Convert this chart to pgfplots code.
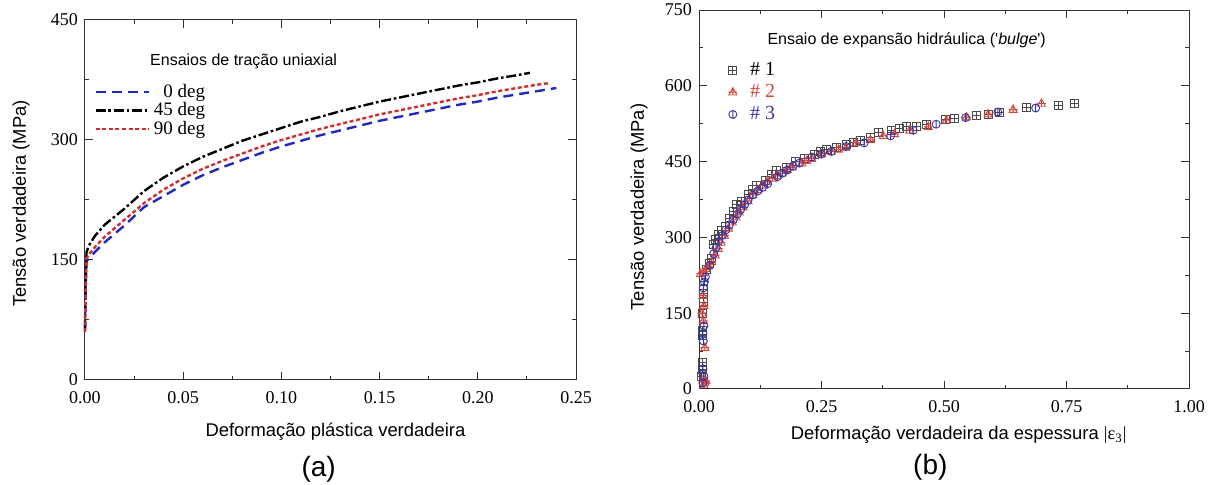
\documentclass[border=0pt]{standalone}
\usepackage{fontspec}
\setmainfont{Liberation Serif}
\setsansfont{Liberation Sans}
\usepackage{pgfplots}
\pgfplotsset{compat=1.18}

\definecolor{myblue}{RGB}{35,40,190}
\definecolor{myred}{RGB}{210,45,45}
\definecolor{mkgray}{RGB}{75,75,75}
\definecolor{mkred}{RGB}{215,70,60}
\definecolor{mkblue}{RGB}{55,55,165}

\pgfdeclareplotmark{sqplus}{%
  \pgfpathrectangle{\pgfpoint{-\pgfplotmarksize}{-\pgfplotmarksize}}{\pgfpoint{2\pgfplotmarksize}{2\pgfplotmarksize}}%
  \pgfpathmoveto{\pgfpoint{-\pgfplotmarksize}{0pt}}\pgfpathlineto{\pgfpoint{\pgfplotmarksize}{0pt}}%
  \pgfpathmoveto{\pgfpoint{0pt}{-\pgfplotmarksize}}\pgfpathlineto{\pgfpoint{0pt}{\pgfplotmarksize}}%
  \pgfusepathqstroke}
\pgfdeclareplotmark{triplus}{%
  \pgfpathmoveto{\pgfpoint{0pt}{1.15\pgfplotmarksize}}%
  \pgfpathlineto{\pgfpoint{-\pgfplotmarksize}{-0.7\pgfplotmarksize}}%
  \pgfpathlineto{\pgfpoint{\pgfplotmarksize}{-0.7\pgfplotmarksize}}%
  \pgfpathclose
  \pgfpathmoveto{\pgfpoint{0pt}{-0.7\pgfplotmarksize}}\pgfpathlineto{\pgfpoint{0pt}{1.15\pgfplotmarksize}}%
  \pgfpathmoveto{\pgfpoint{-1.1\pgfplotmarksize}{0pt}}\pgfpathlineto{\pgfpoint{1.1\pgfplotmarksize}{0pt}}%
  \pgfusepathqstroke}
\pgfdeclareplotmark{circbar}{%
  \pgfpathcircle{\pgfpoint{0pt}{0pt}}{\pgfplotmarksize}%
  \pgfpathmoveto{\pgfpoint{0pt}{-\pgfplotmarksize}}\pgfpathlineto{\pgfpoint{0pt}{\pgfplotmarksize}}%
  \pgfusepathqstroke}

\pgfplotsset{
  myaxis/.style={
    scale only axis,
    clip=false,
    axis line style={black!80, line width=0.5pt},
    every tick/.style={black!80, line width=0.5pt},
    major tick length=4pt,
    minor tick length=1.8pt,
    minor tick num=1,
    tick align=inside,
    scaled ticks=false,
    /pgf/number format/assume math mode=true,
    ticklabel style={font=\fontsize{9}{10}\selectfont},
    xticklabel style={/pgf/number format/fixed, /pgf/number format/fixed zerofill, /pgf/number format/precision=2, yshift=-2pt},
    yticklabel style={/pgf/number format/fixed},
    label style={font=\sffamily\fontsize{9.2}{11}\selectfont},
  }
}

\pgfplotstableread{
x y
0 60
0.0003 110
0.0008 148
0.002 152
0.005 160
0.01 172
0.02 193
0.03 216
0.04 230
0.05 244
0.06 256
0.07 266
0.08 275
0.09 284
0.10 292
0.11 299
0.12 306
0.13 312
0.14 318
0.15 324
0.16 329
0.17 334
0.18 339
0.19 344
0.20 348
0.21 353
0.22 357
0.23 361
0.24 365
}\tzero

\pgfplotstableread{
x y
0 62
0.0003 125
0.0008 160
0.002 168
0.005 180
0.01 194
0.02 214
0.03 236
0.04 253
0.05 267
0.06 279
0.07 289
0.08 299
0.09 307
0.10 315
0.11 323
0.12 329
0.13 336
0.14 342
0.15 348
0.16 353
0.17 358
0.18 363
0.19 368
0.20 372
0.21 377
0.22 381
0.2265 384
}\tfortyfive

\pgfplotstableread{
x y
0 60
0.0003 115
0.0008 152
0.002 157
0.005 166
0.01 179
0.02 200
0.03 221
0.04 238
0.05 252
0.06 264
0.07 274
0.08 283
0.09 292
0.10 300
0.11 307
0.12 314
0.13 320
0.14 326
0.15 332
0.16 337
0.17 342
0.18 347
0.19 352
0.20 356
0.21 361
0.22 365
0.23 369
0.236 371
}\tninety

\pgfplotstableread{
x y
0.005 25
0.006 38
0.006 45
0.007 52
0.006 105
0.007 115
0.008 150
0.009 172
0.009 190
0.010 205
0.016 237
0.021 248
0.026 258
0.029 287
0.034 296
0.039 306
0.046 314
0.053 322
0.063 337
0.070 352
0.077 365
0.087 372
0.100 385
0.110 395
0.118 402
0.135 413
0.147 424
0.158 432
0.179 438
0.196 450
0.216 456
0.236 465
0.248 470
0.260 474
0.280 478
0.300 483
0.315 487
0.330 492
0.349 497
0.366 507
0.393 511
0.410 516
0.424 519
0.444 520
0.465 524
0.502 534
0.522 535
0.566 541
0.590 544
0.614 548
0.668 557
0.733 562
0.767 565
}\bone

\pgfplotstableread{
x y
0.010 8
0.012 13
0.009 20
0.014 16
0.012 82
0.009 135
0.006 150
0.010 165
0.008 185
0.003 228
0.009 230
0.014 238
0.019 243
0.026 252
0.033 265
0.039 278
0.045 290
0.052 304
0.060 318
0.068 330
0.075 340
0.082 350
0.090 360
0.100 372
0.110 384
0.120 394
0.130 403
0.140 411
0.150 417
0.160 422
0.170 427
0.180 434
0.190 439
0.210 447
0.220 452
0.230 456
0.250 465
0.270 470
0.285 474
0.300 478
0.320 487
0.350 493
0.376 501
0.399 505
0.430 512
0.468 519
0.505 532
0.546 538
0.590 544
0.641 553
0.699 565
}\btwo

\pgfplotstableread{
x y
0.008 12
0.010 25
0.008 40
0.009 95
0.008 110
0.010 125
0.009 200
0.011 212
0.013 222
0.022 245
0.030 268
0.035 280
0.040 292
0.048 304
0.055 315
0.062 325
0.070 335
0.078 346
0.085 355
0.093 365
0.100 374
0.110 384
0.120 392
0.130 399
0.140 406
0.160 420
0.170 427
0.180 433
0.192 441
0.205 447
0.230 459
0.250 465
0.270 470
0.300 480
0.337 487
0.391 501
0.437 512
0.484 524
0.544 537
0.610 548
0.687 556
}\bthree

\begin{document}
\begin{tikzpicture}
\useasboundingbox (0,0) rectangle (609.5pt,242.5pt);

% ---------------- (a) ----------------
\begin{axis}[myaxis,
  at={(42.5pt,52.5pt)}, anchor=south west,
  width=245.5pt, height=180pt,
  xmin=0, xmax=0.25, ymin=0, ymax=450,
  xtick={0,0.05,0.1,0.15,0.2,0.25},
  ytick={0,150,300,450},
  xlabel={Deformação plástica verdadeira},
  ylabel={Tensão verdadeira (MPa)},
  xlabel style={at={(axis description cs:0.51,0)}, anchor=center, yshift=-26pt},
  ylabel style={at={(axis description cs:0,0.49)}, anchor=center, yshift=32pt},
  legend style={at={(axis cs:0.0015,377)}, anchor=north west, draw=none, fill=none,
    font=\fontsize{9.5}{10}\selectfont, nodes={inner sep=0.6pt}, column sep=1.5pt, row sep=0pt},
  legend cell align=left,
  legend image code/.code={\draw[#1] (0pt,0pt) -- (26.5pt,0pt);},
]
\addplot[myblue, line width=1.2pt, dash pattern=on 5pt off 3pt] table[x=x,y=y] {\tzero};
\addlegendentry{\hphantom{4}0 deg}
\addplot[black, line width=1.2pt, dash pattern=on 5pt off 1.4pt on 1.3pt off 1.4pt] table[x=x,y=y] {\tfortyfive};
\addlegendentry{45 deg}
\addplot[myred, line width=1.2pt, dash pattern=on 2pt off 1.3pt] table[x=x,y=y] {\tninety};
\addlegendentry{90 deg}
\node[anchor=west, inner sep=0pt, font=\sffamily\fontsize{8}{9}\selectfont] at (axis cs:0.033,398) {Ensaios de tração uniaxial};
\node[font=\sffamily\fontsize{14}{16}\selectfont, yshift=-44.5pt] at (axis description cs:0.476,0) {(a)};
\end{axis}

% ---------------- (b) ----------------
\begin{axis}[myaxis,
  at={(349.5pt,48pt)}, anchor=south west,
  width=245pt, height=189.5pt,
  xmin=0, xmax=1, ymin=0, ymax=750,
  xtick={0,0.25,0.5,0.75,1},
  ytick={0,150,300,450,600,750},
  xlabel={Deformação verdadeira da espessura {\rmfamily|ε\textsubscript{3}|}},
  ylabel={Tensão verdadeira (MPa)},
  xlabel style={at={(axis description cs:0.53,0)}, anchor=center, yshift=-23pt},
  ylabel style={at={(axis description cs:0,0.48)}, anchor=center, yshift=30pt},
  legend style={at={(axis cs:0.047,662)}, anchor=north west, draw=none, fill=none,
    font=\fontsize{10}{11}\selectfont, nodes={inner sep=1.5pt}, column sep=5pt, row sep=0pt},
  legend cell align=left,
]
\addplot[only marks, mark=sqplus, mark size=2pt, draw=mkgray, line width=0.45pt] table[x=x,y=y] {\bone};
\addlegendentry{\# 1}
\addplot[only marks, mark=triplus, mark size=2pt, draw=mkred, line width=0.45pt] table[x=x,y=y] {\btwo};
\addlegendentry{\textcolor{mkred}{\# 2}}
\addplot[only marks, mark=circbar, mark size=2pt, draw=mkblue, line width=0.45pt] table[x=x,y=y] {\bthree};
\addlegendentry{\textcolor{mkblue}{\# 3}}
\node[anchor=west, inner sep=0pt, font=\sffamily\fontsize{8}{9}\selectfont] at (axis cs:0.139,690) {Ensaio de expansão hidráulica (\textquotesingle\textit{bulge}\textquotesingle)};
\node[font=\sffamily\fontsize{14}{16}\selectfont, yshift=-39pt] at (axis description cs:0.472,0) {(b)};
\end{axis}
\end{tikzpicture}
\end{document}
